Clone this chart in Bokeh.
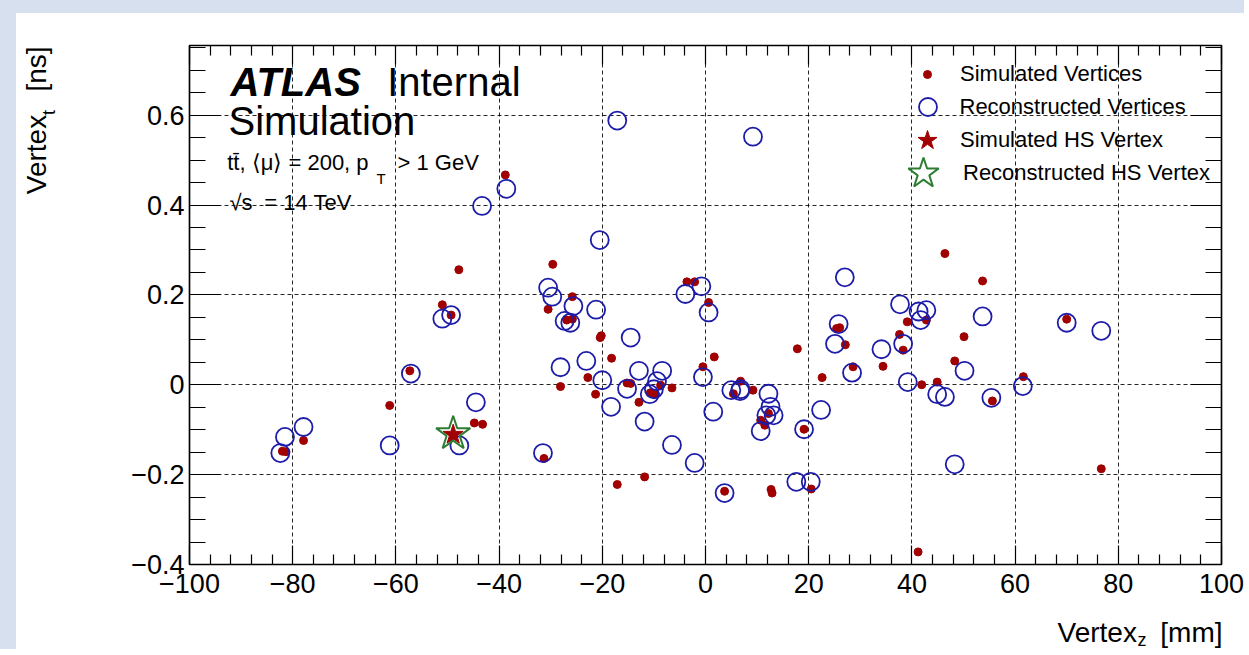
import numpy as np
from bokeh.plotting import figure
from bokeh.layouts import column
from bokeh.models import (Range1d, FixedTicker, LinearAxis, Label, Legend, LegendItem, Grid)
from bokeh.embed import file_html
from bokeh.resources import INLINE

# ---------------- data ----------------
sim_z = [-38.8, -47.8, -51.0, -49.3, -57.3, -61.2, -44.8, -43.2, -77.9, -82.0,
         -81.3, -31.3, -29.6, -25.8, -30.5, -26.9, -25.8, -20.4, -20.2, -18.2,
         -22.8, -28.1, -21.3, -15.2, -14.5, -8.7, -9.7, -10.7, -6.5, -12.9,
         -3.6, -2.1, 0.6, 1.7, -0.5, 6.8, 5.4, 9.2, 12.2, 10.7,
         11.5, 19.1, 17.8, 22.6, -17.1, -11.8, 3.7, 12.7, 12.9, 20.5,
         25.4, 26.0, 27.1, 28.6, 46.4, 53.7, 39.1, 42.8, 50.1, 37.6,
         38.3, 34.4, 48.3, 41.9, 44.9, 55.6, 70.0, 61.6, 41.2, 76.7]
sim_t = [0.467, 0.256, 0.178, 0.155, 0.031, -0.046, -0.085, -0.088, -0.124, -0.148,
         -0.149, -0.164, 0.268, 0.196, 0.168, 0.144, 0.146, 0.105, 0.109, 0.059,
         0.016, -0.004, -0.021, 0.004, 0.003, -0.001, -0.021, -0.018, -0.007, -0.039,
         0.229, 0.229, 0.183, 0.062, 0.040, 0.008, -0.020, -0.012, -0.064, -0.079,
         -0.090, -0.099, 0.080, 0.016, -0.222, -0.205, -0.237, -0.233, -0.241, -0.232,
         0.125, 0.127, 0.089, 0.040, 0.292, 0.231, 0.140, 0.144, 0.107, 0.112,
         0.077, 0.041, 0.053, 0.000, 0.006, -0.036, 0.146, 0.018, -0.372, -0.187]

reco_z = [-38.6, -43.3, -17.1, 9.2, -20.5, -51.0, -49.3, -57.1, -44.5, -81.5,
          -77.9, -82.4, -61.2, -47.7, -31.5, -30.5, -29.7, -25.6, -27.3, -26.2,
          -21.2, -14.5, -23.1, -28.1, -20.0, -18.3, -12.9, -8.4, -15.2, -9.4,
          -10.0, -10.8, -11.8, -3.9, -0.8, 0.6, -0.5, 1.5, 5.0, 6.7,
          6.8, 12.2, 12.6, 11.8, 13.2, 10.7, -6.5, -2.1, 3.7, 17.6,
          20.4, 19.1, 22.4, 27.0, 25.8, 25.1, 28.4, 37.7, 41.3, 42.8,
          41.7, 53.7, 38.3, 34.1, 50.2, 39.2, 44.9, 46.4, 55.4, 70.0,
          76.7, 61.5, 48.3]
reco_t = [0.436, 0.398, 0.588, 0.552, 0.322, 0.147, 0.155, 0.025, -0.039, -0.116,
          -0.094, -0.152, -0.135, -0.135, -0.152, 0.216, 0.196, 0.175, 0.142, 0.138,
          0.167, 0.105, 0.053, 0.039, 0.010, -0.049, 0.031, 0.031, -0.009, 0.008,
          -0.010, -0.021, -0.082, 0.202, 0.219, 0.161, 0.017, -0.060, -0.012, -0.014,
          -0.010, -0.020, -0.049, -0.068, -0.068, -0.103, -0.134, -0.174, -0.241, -0.216,
          -0.216, -0.099, -0.056, 0.239, 0.135, 0.091, 0.027, 0.179, 0.163, 0.166,
          0.144, 0.152, 0.091, 0.079, 0.031, 0.006, -0.021, -0.027, -0.029, 0.138,
          0.120, -0.003, -0.177]

hs_sim_z = [-48.9]
hs_sim_t = [-0.111]
hs_reco_z = [-48.9]
hs_reco_t = [-0.109]

x_ticks = [-100, -80, -60, -40, -20, 0, 20, 40, 60, 80, 100]
x_tick_labels = ["\u2212100", "\u221280", "\u221260", "\u221240", "\u221220", "0",
                 "20", "40", "60", "80", "100"]
y_ticks = [-0.4, -0.2, 0, 0.2, 0.4, 0.6]
y_tick_labels = ["\u22120.4", "\u22120.2", "0", "0.2", "0.4", "0.6"]

legend_labels = ["Simulated Vertices", "Reconstructed Vertices",
                 "Simulated HS Vertex", "Reconstructed HS Vertex"]

# ---------------- style ----------------
RED = "#a00000"
BLUE = "#1c1ca8"
GREEN = "#2e7d32"
PAGE_BG = "#d6e0ef"
FONT = "Liberation Sans"
NBSP3 = "\u00a0\u00a0\u00a0"

p = figure(width=1228, height=636, output_backend="svg", toolbar_location=None,
           x_range=Range1d(-100, 100), y_range=Range1d(-0.4, 0.755),
           min_border_left=173, min_border_right=23, min_border_top=32,
           min_border_bottom=85, x_axis_type=None, y_axis_type=None)
p.background_fill_color = "white"
p.border_fill_color = "white"
p.outline_line_color = "black"
p.outline_line_width = 1.5

x_minor = [float(v) for v in np.arange(-100, 100.1, 4) if round(v) % 20 != 0]
y_minor = [round(float(v), 3) for v in np.arange(-0.4, 0.76, 0.05)]
y_minor = [v for v in y_minor if round(v * 100) % 20 != 0]

xt = FixedTicker(ticks=x_ticks, minor_ticks=x_minor)
yt = FixedTicker(ticks=y_ticks, minor_ticks=y_minor)


def style_axis(ax, major_in, minor_in, show_labels):
    ax.axis_line_color = "black"
    ax.axis_line_width = 1.2
    ax.major_tick_in = major_in
    ax.major_tick_out = 0
    ax.minor_tick_in = minor_in
    ax.minor_tick_out = 0
    ax.major_tick_line_color = "black"
    ax.minor_tick_line_color = "black"
    ax.major_tick_line_width = 1.2
    ax.minor_tick_line_width = 1.2
    if show_labels:
        ax.major_label_text_font = FONT
        ax.major_label_text_font_size = "27px"
        ax.major_label_text_color = "black"
    else:
        ax.major_label_text_alpha = 0
        ax.major_label_text_font_size = "1px"
        ax.major_label_standoff = 0


xb = LinearAxis(ticker=xt, major_label_overrides=dict(zip(x_ticks, x_tick_labels)))
style_axis(xb, 19, 10, True)
xb.major_label_standoff = 9
p.add_layout(xb, "below")

xa = LinearAxis(ticker=xt, major_label_overrides=dict(zip(x_ticks, x_tick_labels)))
style_axis(xa, 19, 10, False)
p.add_layout(xa, "above")

yl = LinearAxis(ticker=yt, major_label_overrides=dict(zip(y_ticks, y_tick_labels)))
style_axis(yl, 31, 16, True)
yl.major_label_standoff = 5
p.add_layout(yl, "left")

yr = LinearAxis(ticker=yt, major_label_overrides=dict(zip(y_ticks, y_tick_labels)))
style_axis(yr, 31, 16, False)
p.add_layout(yr, "right")

for dim, tk in ((0, xt), (1, yt)):
    g = Grid(dimension=dim, ticker=tk, grid_line_color="black",
             grid_line_dash="4 3", grid_line_width=1, grid_line_alpha=0.85)
    p.add_layout(g)

# ---------------- glyphs ----------------
r_sim = p.scatter(sim_z, sim_t, marker="circle", size=8, fill_color=RED, line_color=RED)
r_reco = p.scatter(reco_z, reco_t, marker="circle", size=18, fill_color=None,
                   line_color=BLUE, line_width=1.8)
r_hs_sim = p.scatter(hs_sim_z, hs_sim_t, marker="star", size=21, fill_color=RED,
                     line_color=RED)
r_hs_reco = p.scatter(hs_reco_z, hs_reco_t, marker="star", size=36, fill_color=None,
                      line_color=GREEN, line_width=2)

# ---------------- legends (one per entry so each keeps its marker size) ----------------
# (renderer, label, glyph box, x, y of box bottom-left from frame bottom-left, standoff)
leg_specs = [
    (r_sim, legend_labels[0], 20, 728, 476.7, 23),
    (r_reco, legend_labels[1], 45, 715.5, 434.8, 10),
    (r_hs_sim, legend_labels[2], 50, 713, 399, 8),
    (r_hs_reco, legend_labels[3], 80, 694, 350.7, 0),
]
for rend, lab, S, vx, vy, so in leg_specs:
    lg = Legend(items=[LegendItem(label=lab, renderers=[rend])], location=(vx, vy),
                glyph_width=S, glyph_height=S, label_height=10, label_width=10,
                padding=0, margin=0, spacing=0, label_standoff=so,
                border_line_alpha=0, background_fill_alpha=0,
                label_text_font=FONT, label_text_font_size="22px",
                label_text_color="black")
    p.add_layout(lg)


# ---------------- texts ----------------
def add_label(x, y, text, size, style="normal", align="left", angle=0.0, place=None):
    lab = Label(x=x, y=y, text=text, text_font=FONT, text_font_size=size,
                text_font_style=style, text_align=align,
                text_baseline="alphabetic", angle=angle, text_color="black")
    if place is None:
        p.add_layout(lab)
    else:
        p.add_layout(lab, place)


add_label(-92.05, 0.674, "ATLAS", "40px", "bold italic")
add_label(-61.7, 0.674, "Internal", "40px")
add_label(-92.44, 0.586, "Simulation", "40px")
add_label(-92.69, 0.494, "tt\u0304, \u27e8\u03bc\u27e9 = 200, p", "22px")
add_label(-63.75, 0.459, "T", "15px")
add_label(-59.69, 0.494, "> 1 GeV", "22px")
add_label(-92.25, 0.405, "\u221as", "22px")
add_label(-85.5, 0.405, "= 14 TeV", "22px")

# axis titles: drawn in the side panels so they are not clipped to the frame;
# positions still follow the frame's data scales.
add_label(100.19, -0.552, "Vertex" + NBSP3 + "[mm]", "28px", align="right", place="below")
add_label(83.7, -0.5675, "z", "18px", place="right")

ang = np.pi / 2
add_label(-129.6, 0.753, "Vertex" + NBSP3 + "[ns]", "28px", align="right", angle=ang,
          place="left")
add_label(-127.3, 0.6002, "t", "18px", angle=ang, place="left")

page = column(p, styles={"border-left": "16px solid " + PAGE_BG,
                         "border-top": "13px solid " + PAGE_BG,
                         "overflow": "hidden"})
open("out.html", "w").write(file_html(page, INLINE))
